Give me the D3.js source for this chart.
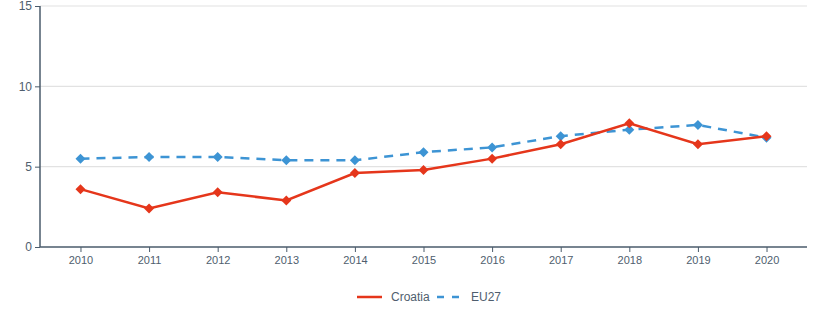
<!DOCTYPE html>
<html><head><meta charset="utf-8">
<script src="https://cdn.jsdelivr.net/npm/d3@7"></script>
<style>body{margin:0;background:#fff;}svg{display:block;font-family:"Liberation Sans",Arial,sans-serif;}</style>
</head><body><svg id="c" width="814" height="326"></svg>
<script>
const years = ["2010","2011","2012","2013","2014","2015","2016","2017","2018","2019","2020"];
const croatia = [3.6,2.4,3.4,2.9,4.6,4.8,5.5,6.4,7.7,6.4,6.9];
const eu27 = [5.5,5.6,5.6,5.4,5.4,5.9,6.2,6.9,7.3,7.6,6.8];
const yTicks = [0,5,10,15];

(function(){
const svg = d3.select("#c");
const mL=40,mR=807,mT=6,mB=247;
const x = d3.scalePoint().domain(years).range([mL,mR]).padding(0.59);
const y = d3.scaleLinear().domain([0,15]).range([mB,mT]);
const axisCol="#4a5b6b", textCol="#4f5e6e";

svg.append("g").selectAll("line").data(yTicks.filter(d=>d>0)).join("line")
  .attr("x1",mL).attr("x2",mR).attr("y1",d=>y(d)).attr("y2",d=>y(d))
  .attr("stroke","#e2e2e2").attr("stroke-width",1.2);

const ya = svg.append("g").attr("transform",`translate(${mL},0)`)
  .call(d3.axisLeft(y).tickValues(yTicks).tickSize(5).tickPadding(3));
const xa = svg.append("g").attr("transform",`translate(0,${mB})`)
  .call(d3.axisBottom(x).tickSize(5).tickPadding(4));
[ya,xa].forEach(a=>{
  a.selectAll("path").attr("stroke",axisCol).attr("stroke-width",1.5);
  a.selectAll("line").attr("stroke",axisCol);
  a.selectAll("text").attr("fill",textCol).attr("font-family","Liberation Sans, Arial, sans-serif");
});
ya.selectAll("text").attr("font-size","12px");
xa.selectAll("text").attr("font-size","11px");
xa.select("path").attr("d",`M${mL},0H${mR}`);
ya.select("path").attr("d",`M0,${mB}V${mT}`);

const series=[{name:"Croatia",vals:croatia,col:"#e5361b",dash:null},{name:"EU27",vals:eu27,col:"#3d94d4",dash:"9,7"}];
const line = d3.line().x((d,i)=>x(years[i])).y(d=>y(d));
const diamond = "M0,-5L5,0L0,5L-5,0Z";
series.slice().reverse().forEach(s=>{
  svg.append("path").attr("d",line(s.vals)).attr("fill","none").attr("stroke",s.col)
    .attr("stroke-width",2.5).attr("stroke-dasharray",s.dash);
  svg.append("g").selectAll("path").data(s.vals).join("path")
    .attr("d",diamond).attr("fill",s.col)
    .attr("transform",(d,i)=>`translate(${x(years[i])},${y(d)})`);
});

const lg = svg.append("g").attr("transform","translate(357,297)");
const items=[{s:series[0],x:0},{s:series[1],x:80}];
items.forEach(it=>{
  lg.append("line").attr("x1",it.x).attr("x2",it.x+25).attr("y1",0).attr("y2",0)
    .attr("stroke",it.s.col).attr("stroke-width",2.5).attr("stroke-dasharray",it.s.dash?"7,8":null);
  lg.append("text").attr("x",it.x+34).attr("y",4).text(it.s.name)
    .attr("fill",textCol).attr("font-size","12px");
});
})();
</script></body></html>
